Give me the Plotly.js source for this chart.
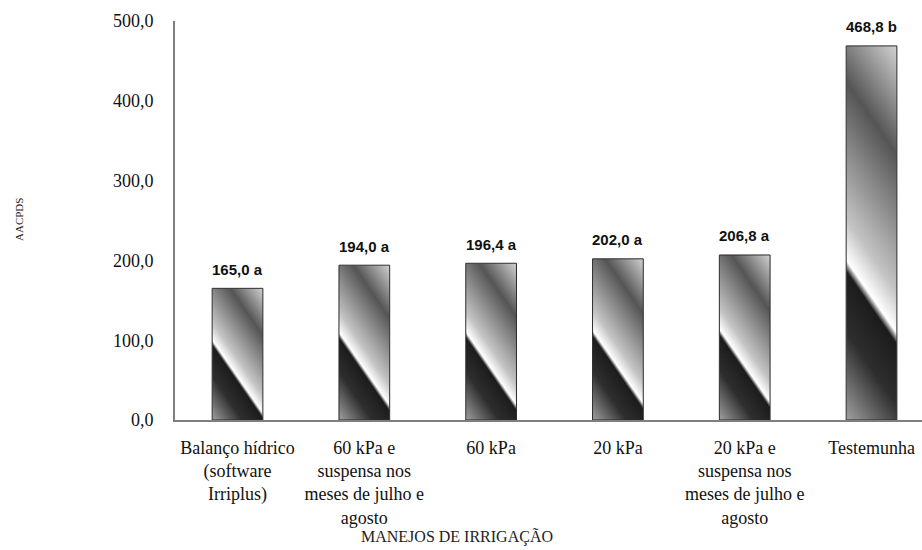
<!DOCTYPE html>
<html>
<head>
<meta charset="utf-8">
<script src="https://cdn.plot.ly/plotly-3.0.1.min.js"></script>
<style>
  html, body { margin: 0; padding: 0; background: #fff; }
  #chart { width: 922px; height: 550px; }
</style>
</head>
<body>
<div id="chart"></div>
<script>
// Irrigation treatments (category labels, with line breaks as printed)
const categories = [
  'Balanço hídrico<br>(software<br>Irriplus)',
  '60 kPa e<br>suspensa nos<br>meses de julho e<br>agosto',
  '60 kPa',
  '20 kPa',
  '20 kPa e<br>suspensa nos<br>meses de julho e<br>agosto',
  'Testemunha'
];
// AACPDS means
const values = [165.0, 194.0, 196.4, 202.0, 206.8, 468.8];
// Significance letters
const letters = ['a', 'a', 'a', 'a', 'a', 'b'];
// Y axis ticks
const yTicks = [0, 100, 200, 300, 400, 500];

const xPos = categories.map((_, i) => i);

// Plot geometry
const M = { l: 175, r: 0, t: 21, b: 130 };
const plotH = 550 - M.t - M.b;
const yMax = 500;
const barFrac = 0.40;
const xRange = [-0.493, 5.398];
const catPx = (922 - M.l - M.r) / (xRange[1] - xRange[0]);

// Diagonal shaded fill for each bar, built as an SVG gradient
function shadedFill(value) {
  const wPx = barFrac * catPx;
  const hPx = value / yMax * plotH;
  const s = 1.45 * wPx / hPx;              // streak slope in box units
  const n = Math.sqrt(1 + s * s);
  const L = (100 * s + 100) / n;
  const x1 = 100, y1 = 0;
  const x2 = x1 + (-s / n) * L, y2 = y1 + (1 / n) * L;
  const ts = (50 * s + 67) / (100 * s + 100);
  const stops = [
    [0, '#d2d2d2'],
    [ts * 0.38, '#555555'],
    [ts * 0.86, '#c4c4c4'],
    [ts, '#ffffff'],
    [ts + 0.025, '#1c1c1c'],
    [ts + (1 - ts) * 0.45, '#2e2e2e'],
    [1, '#a0a0a0']
  ].map(([o, c]) => `<stop offset="${Math.min(1, o).toFixed(4)}" stop-color="${c}"/>`).join('');
  const svg = `<svg xmlns="http://www.w3.org/2000/svg" viewBox="0 0 100 100" preserveAspectRatio="none" width="100" height="100">` +
    `<defs><linearGradient id="g" gradientUnits="userSpaceOnUse" x1="${x1}" y1="${y1}" x2="${x2.toFixed(3)}" y2="${y2.toFixed(3)}">${stops}</linearGradient></defs>` +
    `<rect x="0" y="0" width="100" height="100" fill="url(#g)"/></svg>`;
  return 'data:image/svg+xml;charset=utf-8,' + encodeURIComponent(svg);
}

const images = values.map((v, i) => ({
  source: shadedFill(v),
  xref: 'x', yref: 'y',
  x: xPos[i] - barFrac / 2, y: v,
  sizex: barFrac, sizey: v,
  xanchor: 'left', yanchor: 'top',
  sizing: 'stretch',
  layer: 'below'
}));

const fmt = v => v.toFixed(1).replace('.', ',');

const labelAnnotations = values.map((v, i) => ({
  x: xPos[i], y: v, xref: 'x', yref: 'y',
  text: fmt(v) + ' ' + letters[i],
  showarrow: false,
  yanchor: 'middle',
  yshift: 19,
  font: { family: '"Liberation Sans Narrow", "Arial Narrow", sans-serif', size: 15, color: '#111', weight: 'bold' }
}));

const trace = {
  type: 'bar',
  x: xPos,
  y: values,
  width: barFrac,
  marker: { color: 'rgba(0,0,0,0)', line: { color: '#2a2a2a', width: 1 } },
  hoverinfo: 'skip'
};

const serif = '"Liberation Serif", "Times New Roman", serif';

const layout = {
  width: 922, height: 550,
  margin: M,
  paper_bgcolor: '#ffffff',
  plot_bgcolor: 'rgba(0,0,0,0)',
  separators: ', ',
  showlegend: false,
  xaxis: {
    range: xRange,
    tickmode: 'array', tickvals: xPos, ticktext: categories,
    showline: true, linecolor: '#7f7f7f', linewidth: 2,
    showgrid: false, zeroline: false, ticks: '',
    ticklabelstandoff: 10,
    tickfont: { family: serif, size: 18, color: '#111' },
    fixedrange: true
  },
  yaxis: {
    range: [0, yMax],
    tickmode: 'array', tickvals: yTicks,
    tickformat: '.1f',
    showline: true, linecolor: '#7f7f7f', linewidth: 2,
    showgrid: false, zeroline: false, ticks: '',
    ticklabelstandoff: 16,
    tickfont: { family: serif, size: 18, color: '#111' },
    fixedrange: true
  },
  images: images,
  annotations: labelAnnotations.concat([
    {
      text: 'MANEJOS DE IRRIGAÇÃO', xref: 'paper', yref: 'paper',
      x: (457 - M.l) / (922 - M.l), y: (420 - 537) / plotH,
      xanchor: 'center', yanchor: 'middle', showarrow: false,
      font: { family: serif, size: 16, color: '#222' }
    },
    {
      text: 'AACPDS', xref: 'paper', yref: 'paper',
      x: 0, xshift: 19 - M.l, y: (420 - 220) / plotH,
      xanchor: 'center', yanchor: 'middle', textangle: -90, showarrow: false,
      font: { family: serif, size: 11, color: '#222' }
    }
  ])
};

Plotly.newPlot('chart', [trace], layout, { displayModeBar: false, staticPlot: true });
</script>
</body>
</html>
